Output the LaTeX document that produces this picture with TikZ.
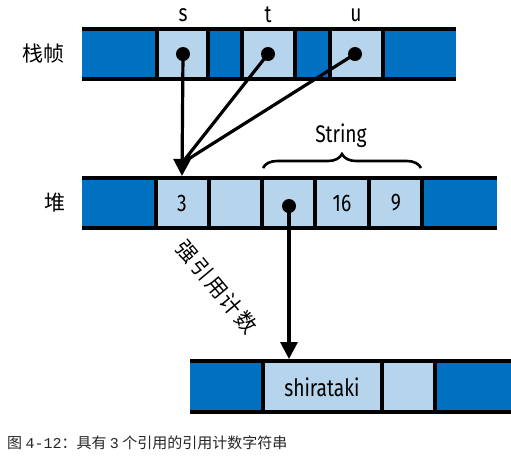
\documentclass[tikz,border=0pt]{standalone}
\usepackage{fontspec}
\setmainfont{Fira Sans}[FakeStretch=0.8]
\newfontfamily\cjk{Noto Sans CJK SC}
\newfontfamily\capmono{Liberation Mono}
\usepackage{tkz-euclide}
\usetikzlibrary{arrows.meta}
\usetikzlibrary{decorations.pathreplacing}

\definecolor{cellDark}{RGB}{0,112,192}
\definecolor{cellLight}{RGB}{182,212,236}

\tikzset{
  rowline/.style={line width=4.4pt},
  cellsep/.style={line width=3.6pt},
  refarrow/.style={line width=3.2pt,-{Triangle[length=17pt,width=17pt]}},
  refline/.style={line width=3.2pt},
  celltext/.style={font=\fontsize{24}{26}\selectfont},
  cjktext/.style={font=\cjk\fontsize{21}{23}\selectfont}
}

\begin{document}
\begin{tikzpicture}[x=1pt,y=-1pt]
                    \useasboundingbox (0,0) rectangle (511,459);

                    % stack frame row
                    \foreach \xa/\xb/\c in {82/157/cellDark,157/208/cellLight,208/242/cellDark,
                        242/295/cellLight,295/330/cellDark,330/383/cellLight,383/456/cellDark}
                        \fill[\c] (\xa,29) rectangle (\xb,79);
                    \foreach \xs in {157,208,242,295,330,383}
                        \draw[cellsep] (\xs,29) -- (\xs,79);
                    \draw[rowline] (82,29) -- (456,29) (82,79) -- (456,79);

                    % heap row
                    \foreach \xa/\xb/\c in {82/156/cellDark,156/209/cellLight,209/262/cellLight,
                        262/315/cellLight,315/369/cellLight,369/422/cellLight,422/497/cellDark}
                        \fill[\c] (\xa,178) rectangle (\xb,228);
                    \foreach \xs in {156,209,262,315,369,422}
                        \draw[cellsep] (\xs,178) -- (\xs,228);
                    \draw[rowline] (82,178) -- (497,178) (82,228) -- (497,228);

                    % string data row
                    \foreach \xa/\xb/\c in {190/263/cellDark,263/382/cellLight,382/435/cellLight,
                        435/511/cellDark}
                        \fill[\c] (\xa,361) rectangle (\xb,412);
                    \foreach \xs in {263,382,435}
                        \draw[cellsep] (\xs,361) -- (\xs,412);
                    \draw[rowline] (190,361) -- (511,361) (190,412) -- (511,412);

                    \tkzDefPoint(183,54){S}
                    \tkzDefPoint(268,54){T}
                    \tkzDefPoint(355,54){U}
                    \tkzDefPoint(182,176){RC}
                    \tkzDefPoint(182,163){M}
                    \tkzDefPoint(289,206){P}
                    \tkzDefPoint(289,359){D}

                    \draw[refarrow] (S) -- (RC);
                    \draw[refline] (T) -- (M) (U) -- (M);
                    \draw[refarrow] (P) -- (D);
                    \foreach \pt in {S,T,U,P}
                        \fill (\pt) circle (7pt);

                    \node[celltext] (ls) at (183,15) {s};
                    \node[celltext] (lt) at (268,15) {t};
                    \node[celltext] (lu) at (356,15) {u};

                    \node[cjktext] (frame) at (44,54) {栈帧};
                    \node[cjktext] (heap) at (55,203) {堆};

                    \node[celltext] (count) at (182,203) {3};
                    \node[celltext] (cap) at (342,203) {16};
                    \node[celltext] (len) at (396,203) {9};
                    \node[celltext] (bytes) at (322,387) {shirataki};

                    \draw[line width=2.6pt,decorate,decoration={brace,amplitude=14pt}]
                        (263,168) -- (421,168);
                    \node[celltext] (str) at (341,136) {String};

                    \node[cjktext,rotate=-50] (rc) at (217,287)
                        {强\hspace{2pt}引\hspace{2pt}用\hspace{2pt}计\hspace{2pt}数};

                    \node[font=\cjk\fontsize{15}{17}\selectfont,anchor=west,text=black!85,inner sep=0pt] (caption)
                        at (7,443) {图\ {\capmono 4-12}：具有\ {\capmono 3}\ 个引用的引用计数字符串};
                \end{tikzpicture}
\end{document}
